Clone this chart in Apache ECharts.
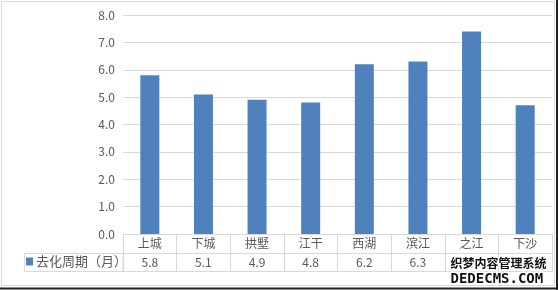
<!DOCTYPE html>
<html><head><meta charset="utf-8">
<script src="https://cdn.jsdelivr.net/npm/echarts@6/dist/echarts.min.js"></script>
<style>html,body{margin:0;padding:0;background:#fff}#c{width:558px;height:290px}</style>
</head><body><div id="c"></div>
<script>
var categories = ['上城','下城','拱墅','江干','西湖','滨江','之江','下沙'];
var values = [5.8, 5.1, 4.9, 4.8, 6.2, 6.3, 7.4, 4.7];
var seriesName = '去化周期（月）';
var yTicks = {min: 0, max: 8, interval: 1};

var FONT = '"Noto Sans CJK SC", "Microsoft YaHei", sans-serif';
var GRAY = '#d9d9d9';
var TXT = '#595959';
var chart = echarts.init(document.getElementById('c'), null, {renderer: 'canvas'});
chart.setOption({
  animation: false,
  textStyle: {fontFamily: FONT},
  grid: {left: 123, right: 6, top: 15, bottom: 56, containLabel: false},
  legend: {
    data: [seriesName], left: 26, top: 255, icon: 'rect', itemWidth: 7, itemHeight: 8, itemGap: 2,
    textStyle: {fontSize: 13, color: TXT, fontFamily: FONT, padding: [0,0,0,-2]}, padding: 0
  },
  xAxis: [
    {type: 'category', data: categories, position: 'bottom',
     axisLine: {lineStyle: {color: GRAY}},
     axisTick: {show: true, length: 37, lineStyle: {color: GRAY}, interval: 0},
     axisLabel: {margin: 3, fontSize: 12, color: TXT, fontFamily: FONT, interval: 0}},
    {type: 'category', data: categories, position: 'bottom', offset: 19,
     axisLine: {lineStyle: {color: GRAY}}, axisTick: {show: false},
     axisLabel: {margin: 3, fontSize: 12, color: TXT, fontFamily: FONT, interval: 0,
       formatter: function (v, i) { return values[i].toFixed(1); }}},
    {type: 'category', data: categories, position: 'bottom', offset: 37,
     axisLine: {lineStyle: {color: GRAY}}, axisTick: {show: false}, axisLabel: {show: false}}
  ],
  yAxis: {type: 'value', min: yTicks.min, max: yTicks.max, interval: yTicks.interval,
    axisLine: {show: false}, axisTick: {show: false},
    splitLine: {lineStyle: {color: GRAY}},
    axisLabel: {margin: 8, fontSize: 12, color: TXT, fontFamily: FONT,
      formatter: function (v) { return v.toFixed(1); }}},
  series: [{name: seriesName, type: 'bar', xAxisIndex: 0, data: values, barWidth: 19,
    itemStyle: {color: '#4f81bd'}}],
  graphic: [
    {type: 'rect', shape: {x: 1.5, y: 1.5, width: 553, height: 284}, style: {fill: 'none', stroke: GRAY, lineWidth: 1}, z: -1},
    {type: 'line', shape: {x1: 0, y1: 288.5, x2: 558, y2: 288.5}, style: {stroke: '#222', lineWidth: 2}},
    {type: 'line', shape: {x1: 557, y1: 0, x2: 557, y2: 290}, style: {stroke: '#222', lineWidth: 2}},
    {type: 'rect', shape: {x: 24.5, y: 253.5, width: 98.5, height: 18}, style: {fill: 'none', stroke: GRAY, lineWidth: 1}},
    {type: 'text', left: 449, top: 256, z: 100, style: {text: '织梦内容管理系统', font: 'bold 12px "Noto Sans CJK SC"', fill: '#111', stroke: '#fff', lineWidth: 3}},
    {type: 'text', left: 449, top: 271, z: 100, style: {text: 'DEDECMS.COM', font: 'bold 14px "DejaVu Sans Mono"', fill: '#111', stroke: '#fff', lineWidth: 3}}
  ]
});
</script></body></html>
